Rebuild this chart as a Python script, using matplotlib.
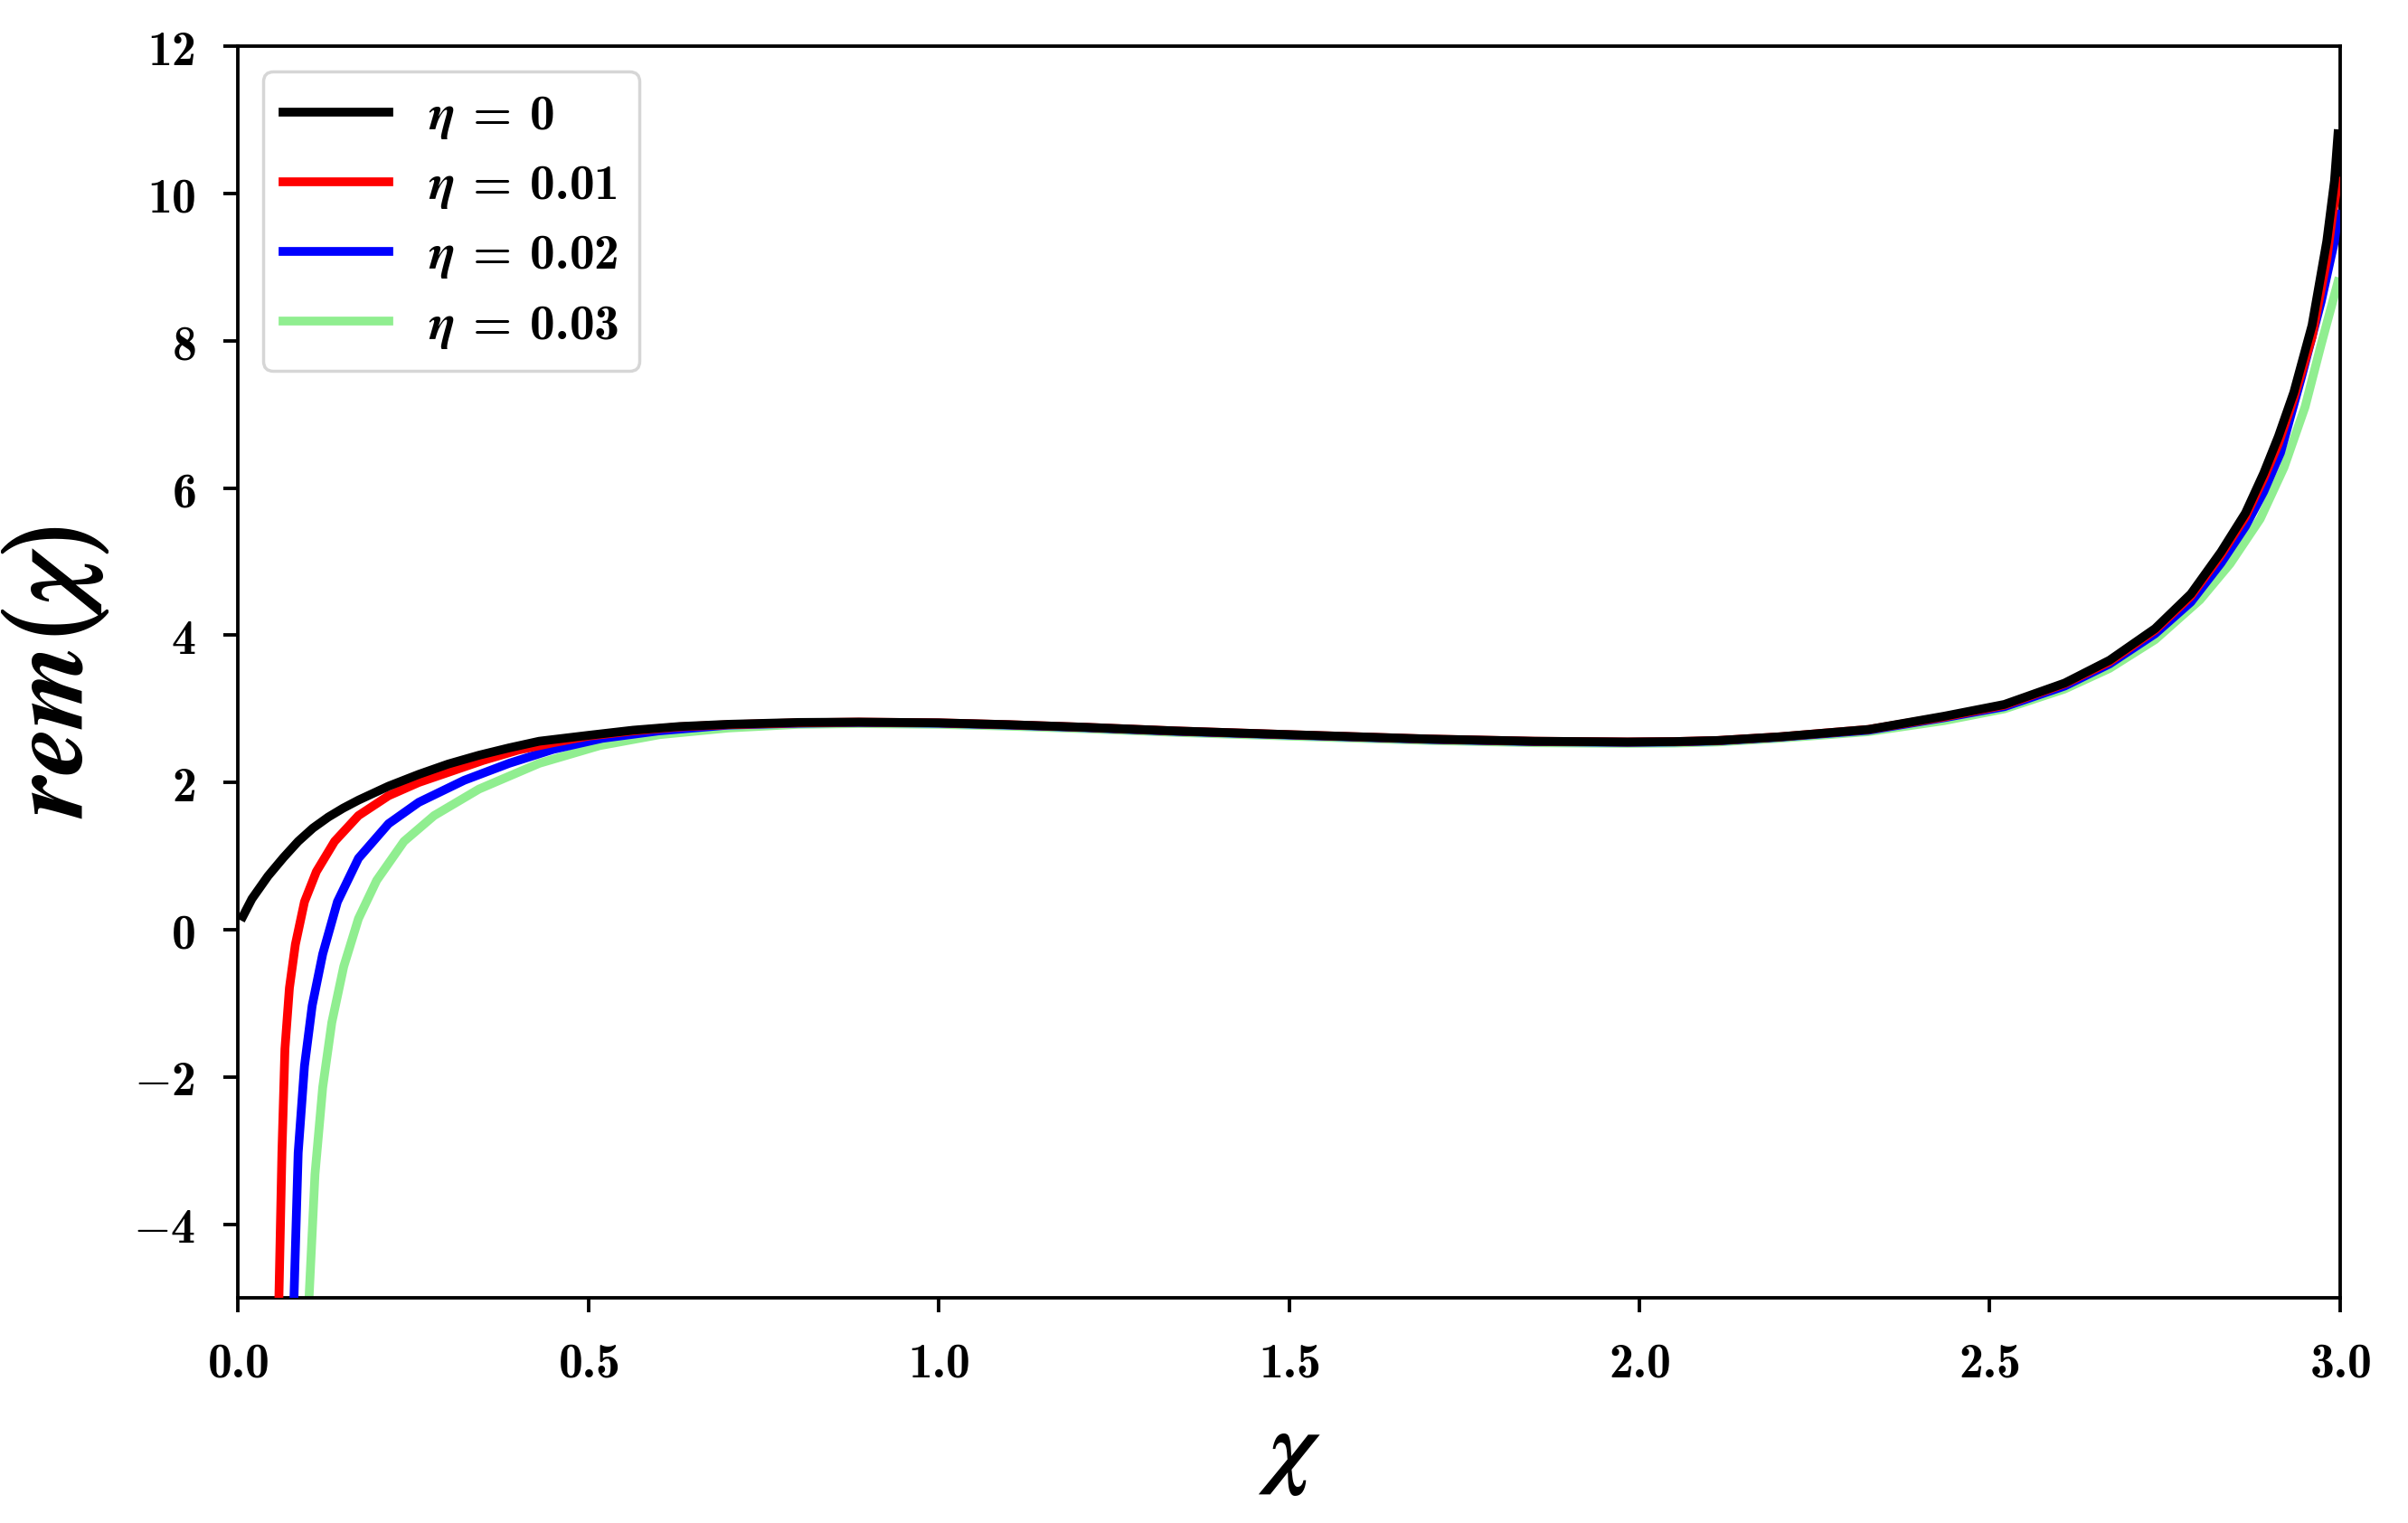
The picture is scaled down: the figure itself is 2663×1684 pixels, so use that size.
import numpy as np
import matplotlib
matplotlib.use('Agg')
import matplotlib.pyplot as plt

plt.rcParams['mathtext.fontset'] = 'custom'
plt.rcParams['mathtext.rm'] = 'cmb10'
plt.rcParams['mathtext.bf'] = 'cmb10'
plt.rcParams['mathtext.it'] = 'STIXGeneral:italic:bold'
plt.rcParams['axes.linewidth'] = 1.1

#%% data
x_eta0 = [0.007, 0.02, 0.043, 0.065, 0.086, 0.107, 0.129, 0.15, 0.172, 0.215, 0.258,
          0.30, 0.344, 0.387, 0.43, 0.5, 0.564, 0.63, 0.7, 0.8, 0.886, 1.0, 1.1,
          1.209, 1.338, 1.5, 1.7, 1.85, 1.983, 2.05, 2.112, 2.2, 2.327, 2.435,
          2.521, 2.607, 2.671, 2.736, 2.787, 2.830, 2.865, 2.891, 2.912, 2.934,
          2.960, 2.981, 2.992, 2.997]
y_eta0 = [0.18, 0.42, 0.73, 0.98, 1.20, 1.38, 1.53, 1.65, 1.76, 1.95, 2.11,
          2.25, 2.37, 2.47, 2.56, 2.64, 2.71, 2.76, 2.79, 2.815, 2.82, 2.81, 2.785,
          2.75, 2.70, 2.65, 2.59, 2.56, 2.55, 2.555, 2.57, 2.62, 2.72, 2.90,
          3.06, 3.35, 3.66, 4.09, 4.56, 5.13, 5.66, 6.20, 6.70, 7.30,
          8.21, 9.35, 10.17, 10.81]

x_eta1 = [0.0585, 0.0628, 0.0671, 0.0735, 0.082, 0.095, 0.112, 0.138, 0.172, 0.215,
          0.258, 0.301, 0.35, 0.4, 0.45, 0.5, 0.564, 0.63, 0.7, 0.8, 0.886, 1.0,
          1.1, 1.209, 1.338, 1.5, 1.7, 1.85, 1.983, 2.05, 2.112, 2.2, 2.327, 2.435,
          2.521, 2.607, 2.671, 2.736, 2.787, 2.830, 2.865, 2.891, 2.912, 2.934,
          2.960, 2.981, 2.990, 2.997]
y_eta1 = [-5.0, -3.03, -1.62, -0.79, -0.2, 0.38, 0.79, 1.20, 1.55, 1.82,
          2.00, 2.14, 2.30, 2.44, 2.54, 2.63, 2.70, 2.755, 2.785, 2.81, 2.82, 2.81,
          2.785, 2.75, 2.70, 2.65, 2.59, 2.56, 2.55, 2.555, 2.57, 2.62, 2.72, 2.89,
          3.05, 3.34, 3.64, 4.07, 4.53, 5.09, 5.61, 6.13, 6.60, 7.22,
          8.05, 9.10, 9.76, 10.17]

x_eta2 = [0.080, 0.086, 0.095, 0.106, 0.121, 0.142, 0.172, 0.215, 0.258, 0.323,
          0.387, 0.45, 0.52, 0.6, 0.7, 0.8, 0.886, 1.0, 1.1, 1.209, 1.338, 1.5,
          1.7, 1.85, 1.983, 2.05, 2.112, 2.2, 2.327, 2.435, 2.521, 2.607, 2.671,
          2.736, 2.787, 2.830, 2.865, 2.891, 2.915, 2.945, 2.973, 2.992, 2.997]
y_eta2 = [-5.0, -3.03, -1.85, -1.03, -0.33, 0.38, 0.97, 1.44, 1.73, 2.03,
          2.26, 2.45, 2.60, 2.70, 2.78, 2.805, 2.815, 2.805, 2.78, 2.745, 2.695, 2.645,
          2.585, 2.555, 2.545, 2.55, 2.565, 2.615, 2.71, 2.88, 3.03, 3.31, 3.61,
          4.02, 4.45, 4.98, 5.48, 5.95, 6.48, 7.51, 8.53, 9.35, 9.72]

x_eta3 = [0.1015, 0.110, 0.121, 0.134, 0.151, 0.172, 0.198, 0.237, 0.280, 0.344,
          0.43, 0.516, 0.602, 0.7, 0.8, 0.886, 1.0, 1.1, 1.209, 1.338, 1.5, 1.7,
          1.85, 1.983, 2.05, 2.112, 2.2, 2.327, 2.435, 2.521, 2.607, 2.671, 2.736,
          2.800, 2.843, 2.886, 2.920, 2.950, 2.973, 2.990, 2.997]
y_eta3 = [-5.0, -3.32, -2.14, -1.26, -0.5, 0.15, 0.67, 1.20, 1.55, 1.91,
          2.26, 2.50, 2.65, 2.74, 2.79, 2.80, 2.79, 2.765, 2.73, 2.68, 2.63, 2.57,
          2.54, 2.53, 2.535, 2.55, 2.60, 2.69, 2.84, 3.00, 3.27, 3.55, 3.94,
          4.48, 4.97, 5.58, 6.28, 7.10, 7.95, 8.55, 8.80]

labels = [r'$\eta\;=\;0$', r'$\eta\;=\;0.01$', r'$\eta\;=\;0.02$', r'$\eta\;=\;0.03$']
colors = ['black', 'red', 'blue', 'lightgreen']

x_ticks = [0.0, 0.5, 1.0, 1.5, 2.0, 2.5, 3.0]
x_tick_labels = ['0.0', '0.5', '1.0', '1.5', '2.0', '2.5', '3.0']
y_ticks = [-4, -2, 0, 2, 4, 6, 8, 10, 12]
y_tick_labels = ['-4', '-2', '0', '2', '4', '6', '8', '10', '12']

#%%
fig = plt.figure(figsize=(2663/250, 1684/250), dpi=250)
ax = fig.add_axes([0.0988, 0.1478, 0.8730, 0.8219])

series = [(x_eta0, y_eta0), (x_eta1, y_eta1), (x_eta2, y_eta2), (x_eta3, y_eta3)]
zorders = [5, 4, 3, 2]
for (xs, ys), lab, col, zo in zip(series, labels, colors, zorders):
    ax.plot(xs, ys, color=col, lw=2.8, label=lab, zorder=zo, solid_joinstyle='round')

ax.set_xlim(0, 3)
ax.set_ylim(-5, 12)
ax.set_xticks(x_ticks)
ax.set_xticklabels(['$' + s + '$' for s in x_tick_labels], fontsize=15.5)
ax.set_yticks(y_ticks)
ax.set_yticklabels(['$' + s + '$' for s in y_tick_labels], fontsize=15.5)
ax.tick_params(direction='out', length=4.5, width=1.1, pad=9)

ax.set_xlabel(r'$\chi$', fontsize=30, labelpad=6)
ax.set_ylabel(r'$rem(\chi)$', fontsize=34, labelpad=7)

ax.legend(loc='upper left', fontsize=16, handlelength=2.1, labelspacing=0.4,
          borderaxespad=0.5)

fig.savefig('out.png', dpi=250)
